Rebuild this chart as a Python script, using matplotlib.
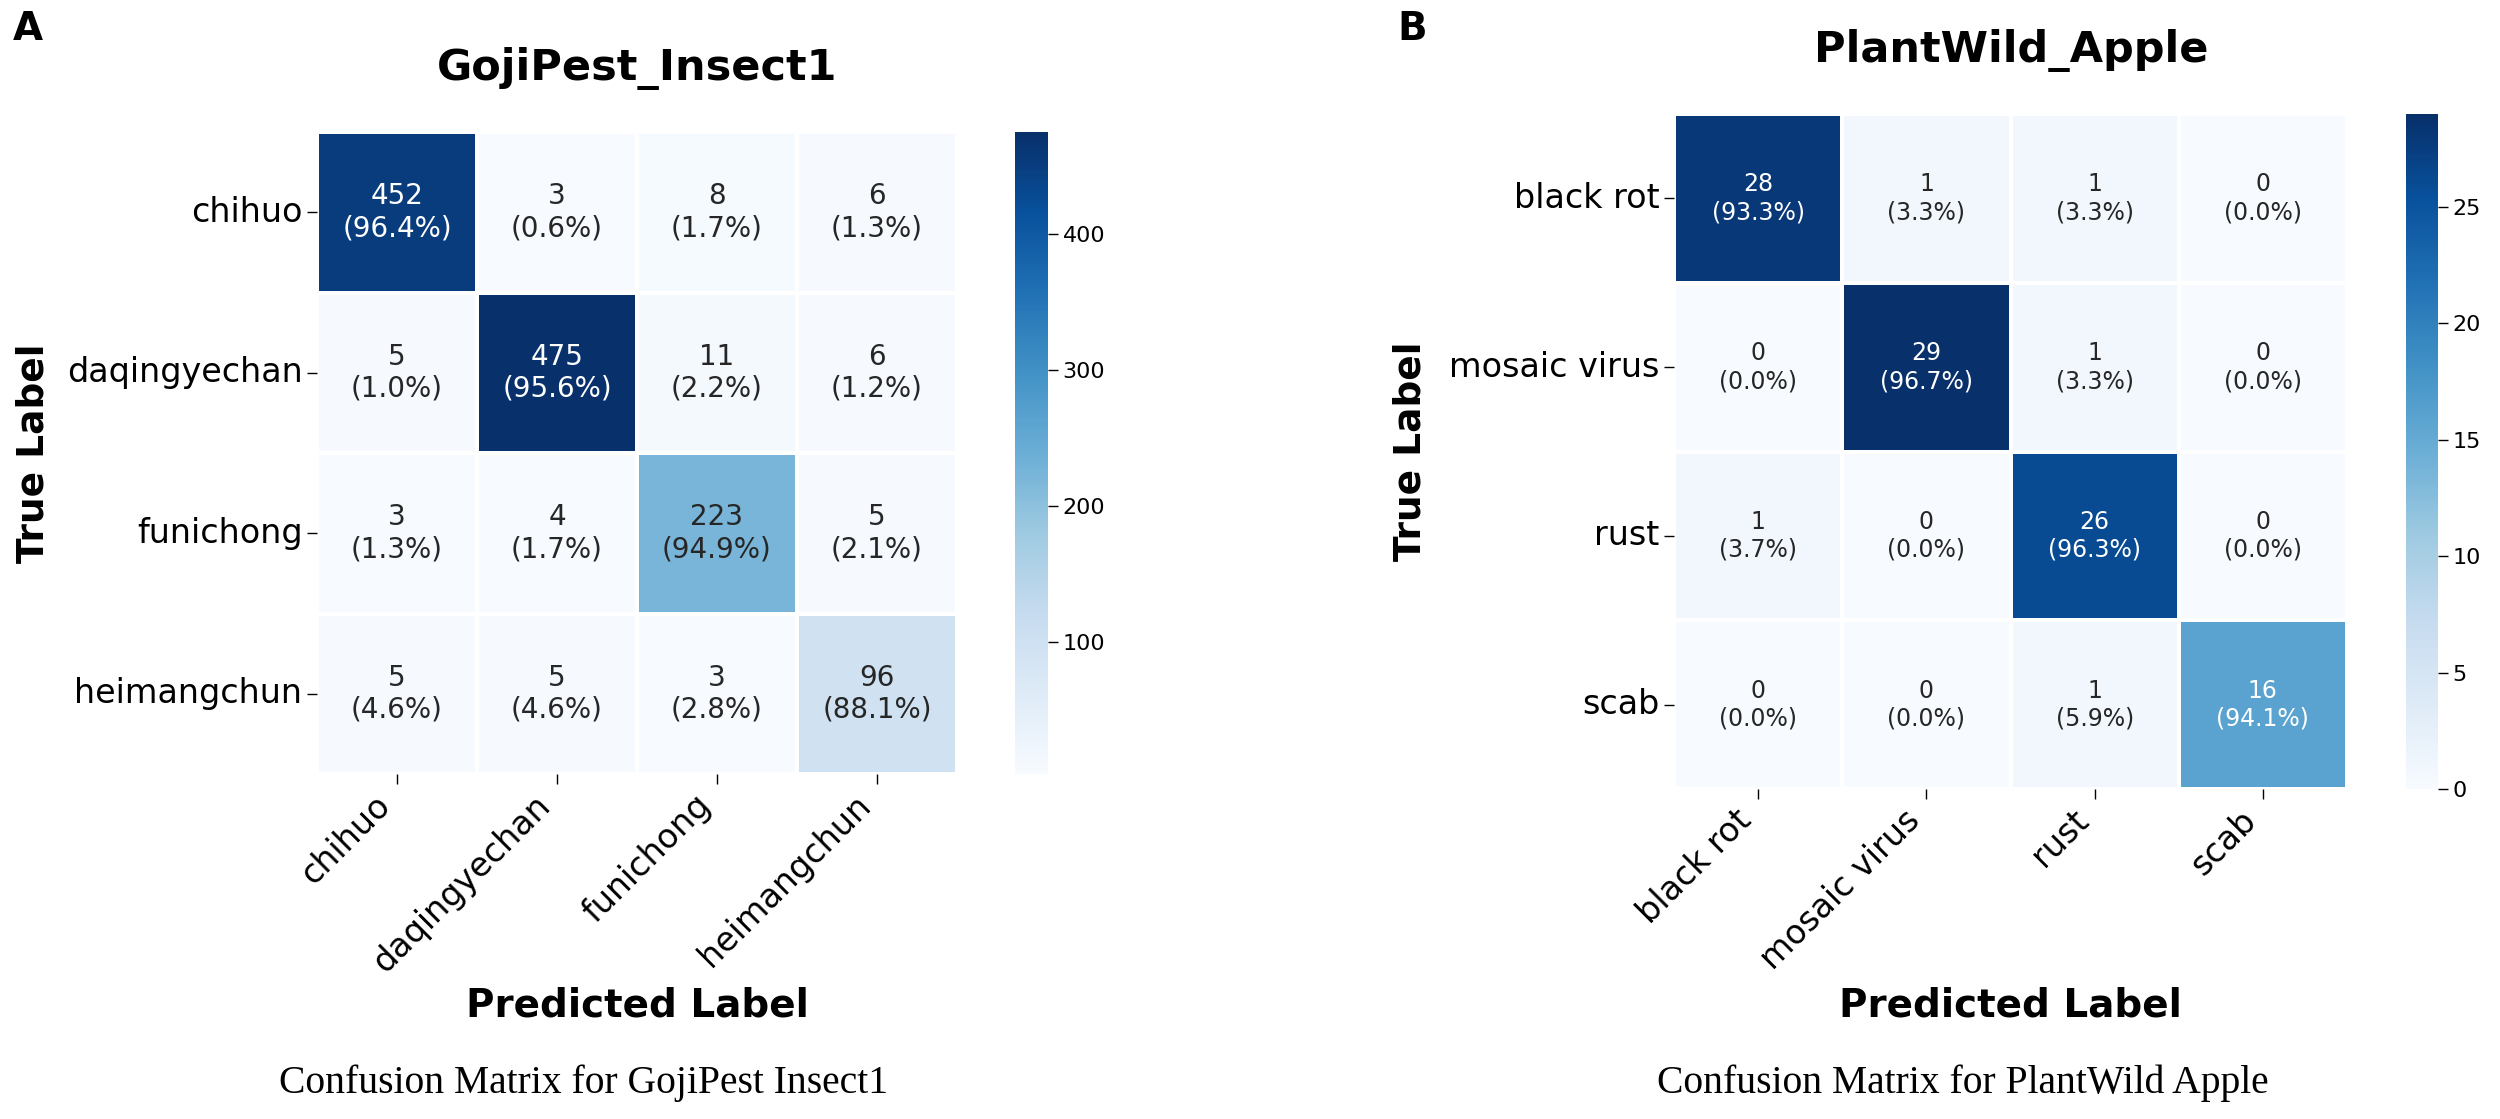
import numpy as np
import matplotlib
matplotlib.use("Agg")
import matplotlib.pyplot as plt
import seaborn as sns

# panel A data
goji_labels = ["chihuo", "daqingyechan", "funichong", "heimangchun"]
goji_counts = [[452, 3, 8, 6],
               [5, 475, 11, 6],
               [3, 4, 223, 5],
               [5, 5, 3, 96]]

# panel B data
apple_labels = ["black rot", "mosaic virus", "rust", "scab"]
apple_counts = [[28, 1, 1, 0],
                [0, 29, 1, 0],
                [1, 0, 26, 0],
                [0, 0, 1, 16]]

W, H = 2500, 1119
fig = plt.figure(figsize=(W / 100, H / 100), dpi=100)


def px_box(x0, y0, x1, y1):
    # pixel box (top-left origin) -> figure fraction
    return [x0 / W, 1 - y1 / H, (x1 - x0) / W, (y1 - y0) / H]


def draw_cm(counts, labels, ax_box, cb_box, annot_size, cb_ticks,
            xlab_y, ylab_x):
    cm = np.array(counts)
    pct = cm / cm.sum(axis=1, keepdims=True) * 100
    annot = np.array([["%d\n(%.1f%%)" % (cm[i, j], pct[i, j])
                       for j in range(cm.shape[1])] for i in range(cm.shape[0])])
    ax = fig.add_axes(px_box(*ax_box))
    cax = fig.add_axes(px_box(*cb_box))
    sns.heatmap(cm, annot=annot, fmt="", cmap="Blues", linewidths=1.5,
                linecolor="white", ax=ax, cbar_ax=cax,
                xticklabels=labels, yticklabels=labels,
                annot_kws={"fontsize": annot_size})
    ax.tick_params(axis="both", labelsize=24, length=7, width=1)
    plt.setp(ax.get_xticklabels(), rotation=45, ha="right")
    plt.setp(ax.get_yticklabels(), rotation=0)
    ax.set_xlabel("Predicted Label", fontsize=28, fontweight="bold", va="center")
    ax.set_ylabel("True Label", fontsize=27, fontweight="bold", va="center")
    ax.xaxis.set_label_coords(0.5, xlab_y)
    ax.yaxis.set_label_coords(ylab_x, 0.5)
    cax.set_yticks(cb_ticks)
    cax.tick_params(labelsize=16, length=7, width=1)
    return ax


draw_cm(goji_counts, goji_labels, (317, 132, 957, 774), (1015, 132, 1048, 774),
        20, [100, 200, 300, 400], -0.361, -0.443)
draw_cm(apple_counts, apple_labels, (1674, 114, 2347, 789), (2406, 114, 2438, 789),
        17, [0, 5, 10, 15, 20, 25], -0.321, -0.392)

# titles
fig.text(637 / W, 1 - 68 / H, "GojiPest_Insect1", fontsize=31,
         fontweight="bold", ha="center", va="center")
fig.text(2011 / W, 1 - 50 / H, "PlantWild_Apple", fontsize=31,
         fontweight="bold", ha="center", va="center")

# panel letters
fig.text(28 / W, 1 - 29 / H, "A", fontsize=28, fontweight="bold",
         ha="center", va="center")
fig.text(1412 / W, 1 - 29 / H, "B", fontsize=28, fontweight="bold",
         ha="center", va="center")

# captions
fig.text(584 / W, 1 - 1083 / H, "Confusion Matrix for GojiPest Insect1",
         fontsize=28.5, family="Liberation Serif", ha="center", va="center")
fig.text(1963 / W, 1 - 1083 / H, "Confusion Matrix for PlantWild Apple",
         fontsize=28.5, family="Liberation Serif", ha="center", va="center")

fig.savefig("out.png", dpi=100)
